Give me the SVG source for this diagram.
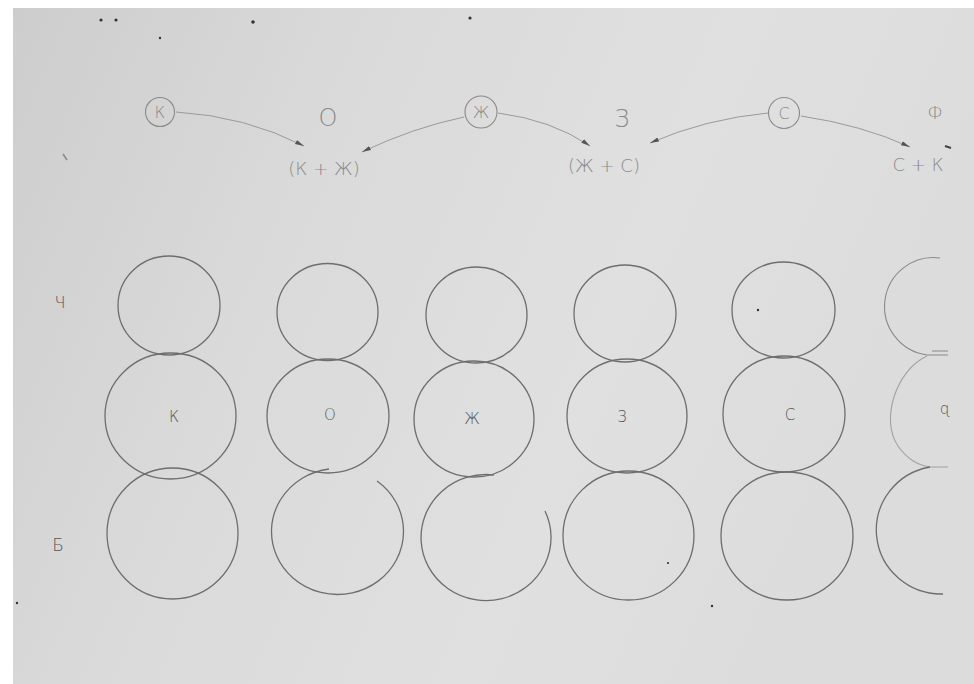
<svg xmlns="http://www.w3.org/2000/svg" width="974" height="684" viewBox="0 0 974 684">
<defs>
<linearGradient id="paper" x1="0" y1="0" x2="1" y2="0.3">
<stop offset="0" stop-color="#cdcdcd"/>
<stop offset="0.35" stop-color="#dadada"/>
<stop offset="0.7" stop-color="#e0e0e0"/>
<stop offset="1" stop-color="#dcdcdc"/>
</linearGradient>
<marker id="ah" markerWidth="10" markerHeight="6" refX="9" refY="3" orient="auto" markerUnits="userSpaceOnUse">
<path d="M0,0.8 L9,3 L0,5.2 z" fill="#555"/>
</marker>
<style>
.c{fill:none;stroke:#6e6e6e;stroke-width:1.3}
.cl{fill:none;stroke:#8a8a8a;stroke-width:1.1}
.t{font-family:"DejaVu Sans","Liberation Sans",sans-serif;font-weight:200;fill:#555;text-anchor:middle}
.tt{font-family:"DejaVu Sans","Liberation Sans",sans-serif;font-weight:200;fill:#8a8a8a;text-anchor:middle}
.ring{fill:none;stroke:#8a8a8a;stroke-width:1.1}
.arr{fill:none;stroke:#9a9a9a;stroke-width:1;marker-end:url(#ah)}
.dot{fill:#333}
</style>
</defs>
<rect width="974" height="684" fill="#ffffff"/>
<rect x="13" y="8" width="961" height="676" fill="url(#paper)"/>

<!-- specks -->
<g id="specks">
<circle class="dot" cx="101" cy="20" r="1.6"/>
<circle class="dot" cx="116" cy="20" r="1.6"/>
<circle class="dot" cx="160" cy="38" r="1.2"/>
<circle class="dot" cx="253" cy="22" r="1.8"/>
<circle class="dot" cx="470" cy="18" r="1.6"/>
<circle class="dot" cx="17" cy="603" r="1.2"/>
<circle class="dot" cx="712" cy="606" r="1.2"/>
<circle class="dot" cx="758" cy="310" r="1.2"/>
<circle class="dot" cx="668" cy="563" r="1.1"/>
<path d="M63,154 L67,160" stroke="#8a8a8a" stroke-width="1.5"/>
</g>

<!-- top row -->
<g id="top-k"><circle class="ring" cx="160" cy="112" r="14.5"/><text class="tt" x="160" y="118" font-size="16">К</text></g>
<g id="top-o"><text class="tt" x="328" y="126" font-size="24">О</text></g>
<g id="top-zh"><circle class="ring" cx="481" cy="112" r="16"/><text class="tt" x="481" y="118" font-size="16">Ж</text></g>
<g id="top-z"><text class="tt" x="622" y="127" font-size="24">З</text></g>
<g id="top-s"><circle class="ring" cx="784" cy="113" r="15.5"/><text class="tt" x="784" y="119" font-size="16">С</text></g>
<g id="top-f"><text class="tt" x="935" y="119" font-size="18">Ф</text></g>
<g id="pair-kzh"><text class="tt" x="324" y="175" font-size="18">(К + Ж)</text></g>
<g id="pair-zhs"><text class="tt" x="604" y="172" font-size="18">(Ж + С)</text></g>
<g id="pair-sk"><text class="tt" x="918" y="171" font-size="18">С + К</text></g>

<g id="connectors">
<path class="arr" d="M176,112 Q245,116 304,146"/>
<path class="arr" d="M464,117 Q412,128 362,152"/>
<path class="arr" d="M498,113 Q552,120 590,146"/>
<path class="arr" d="M768,113 Q705,119 650,143"/>
<path class="arr" d="M801,116 Q862,125 910,147"/>
<path d="M945,146 L951,148" stroke="#444" stroke-width="2"/>
</g>

<!-- row labels -->
<g id="label-ch"><text class="t" x="60" y="308" font-size="16">Ч</text></g>
<g id="label-b"><text class="t" x="58" y="551" font-size="17">Б</text></g>

<!-- column 1 -->
<g id="col1">
<ellipse class="c" cx="169" cy="305.5" rx="51" ry="49.5"/>
<ellipse class="c" cx="170.5" cy="416" rx="65.5" ry="63"/>
<ellipse class="c" cx="172.5" cy="533.5" rx="65.5" ry="65.5"/>
<text class="t" x="174" y="422" font-size="15">К</text>
</g>
<!-- column 2 -->
<g id="col2">
<ellipse class="c" cx="327.5" cy="312" rx="50.5" ry="48.5"/>
<ellipse class="c" cx="328" cy="416" rx="61" ry="57"/>
<path class="c" d="M377,481 A66,63 0 1 1 329,469"/>
<text class="t" x="330" y="420" font-size="15">О</text>
</g>
<!-- column 3 -->
<g id="col3">
<ellipse class="c" cx="476.5" cy="315" rx="50.5" ry="48"/>
<ellipse class="c" cx="474" cy="419" rx="60" ry="58"/>
<path class="c" d="M545,511 A65,63 0 1 1 494,475"/>
<text class="t" x="472" y="424" font-size="15">Ж</text>
</g>
<!-- column 4 -->
<g id="col4">
<ellipse class="c" cx="625" cy="313.5" rx="51" ry="48.5"/>
<ellipse class="c" cx="627" cy="416" rx="60" ry="57"/>
<ellipse class="c" cx="628.5" cy="535.5" rx="65.5" ry="64.5"/>
<text class="t" x="622" y="422" font-size="15">З</text>
</g>
<!-- column 5 -->
<g id="col5">
<ellipse class="c" cx="783.5" cy="310" rx="51.5" ry="48"/>
<ellipse class="c" cx="784" cy="414" rx="61" ry="58"/>
<ellipse class="c" cx="787" cy="536" rx="66" ry="64"/>
<text class="t" x="790" y="420" font-size="15">С</text>
</g>
<!-- column 6 (cut off) -->
<g id="col6">
<path class="cl" d="M940,258 A48,48 0 1 0 927,355 L948,355 M932,351 L948,351"/>
<path class="cl" d="M927,356 C896,370 880,420 898,446 C908,460 918,465 930,467 L948,467" stroke-opacity="0.7"/>
<path class="c" d="M930,467 A65,64 0 0 0 943,594"/>
<text class="t" x="944" y="414" font-size="15">ɋ</text>
</g>
</svg>
